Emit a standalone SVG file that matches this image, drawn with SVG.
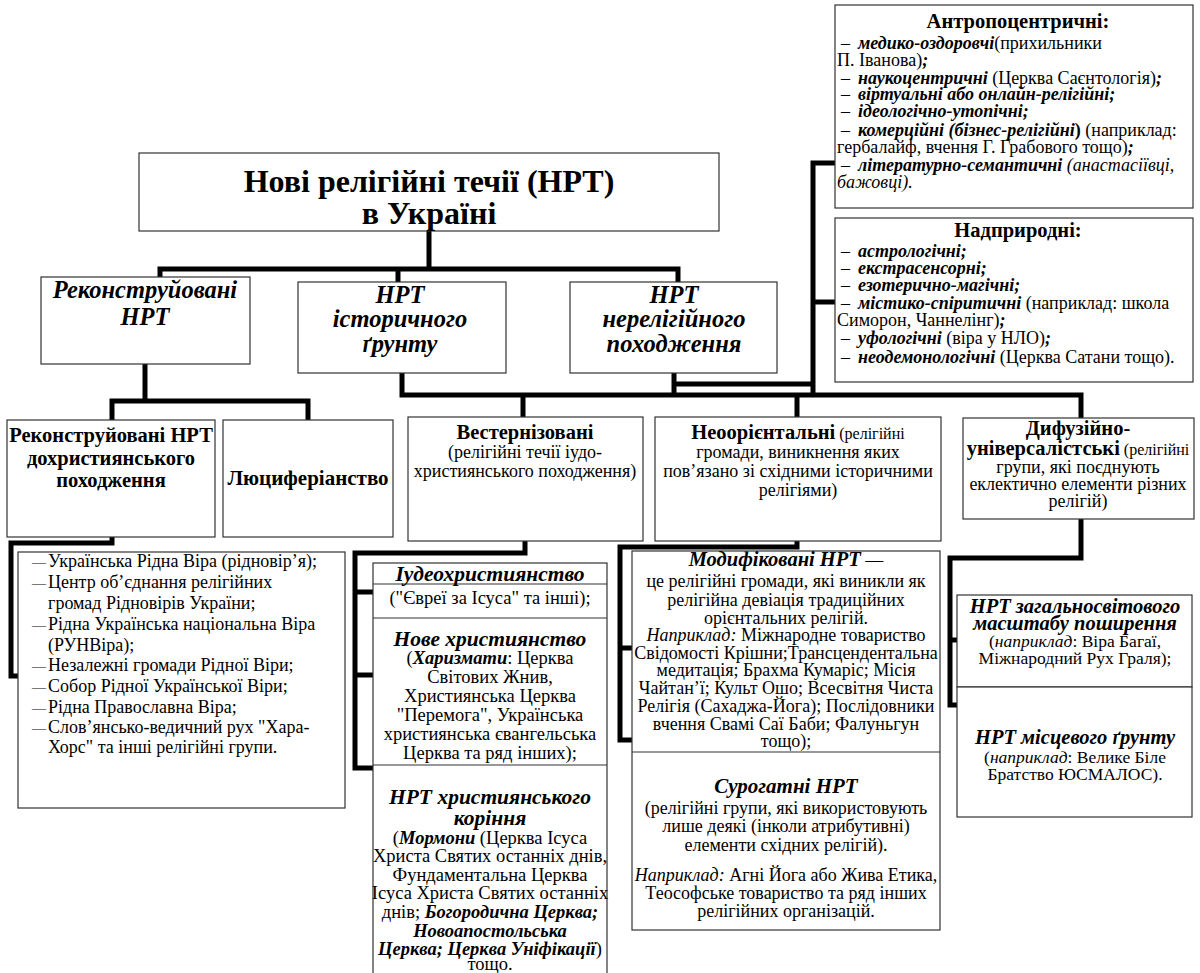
<svg xmlns="http://www.w3.org/2000/svg" width="1200" height="973" viewBox="0 0 1200 973" font-family="Liberation Serif, DejaVu Serif, serif">
<style>
.b{fill:#fff;stroke:#333;stroke-width:1.2}
.d{fill:none;stroke:#333;stroke-width:1.2}
.c{fill:none;stroke:#000;stroke-width:5;stroke-linejoin:miter;stroke-linecap:butt}
text{font-family:'Liberation Serif','DejaVu Serif',serif;font-size:18px;fill:#000}
.m{text-anchor:middle}
.bi{font-weight:bold;font-style:italic}
.bd{font-weight:bold}
.it{font-style:italic}
.h{font-size:20.5px}
.k{font-size:24.5px}
.g{font-size:20.5px}
.q{font-size:21.5px}
.s{font-size:16px}
.cb{font-size:18.5px}
.sm{font-size:17.5px}
.dash{font-size:14px}
</style>
<rect width="1200" height="973" fill="#fff"/>
<g id="connectors">
<path class="c" d="M429,231 V269"/>
<path class="c" d="M160,277 V269 H678 V282"/>
<path class="c" d="M398,269 V282"/>
<path class="c" d="M145,364 V401"/>
<path class="c" d="M112,420 V401 H308 V420"/>
<path class="c" d="M112,537 V543 H11 V676 H18"/>
<path class="c" d="M402,373 V395 H1081 V418"/>
<path class="c" d="M523,395 V417"/>
<path class="c" d="M797,395 V417"/>
<path class="c" d="M674,373 V395"/>
<path class="c" d="M674,384 H813"/>
<path class="c" d="M835,163 H813 V397"/>
<path class="c" d="M813,302 H835"/>
<path class="c" d="M525,541 V553 H355 V768 H373"/>
<path class="c" d="M355,592 H373"/>
<path class="c" d="M355,675 H373"/>
<path class="c" d="M797,541 V547 H620 V740 H632"/>
<path class="c" d="M620,648 H632"/>
<path class="c" d="M1081,519 V558 H950 V705 H957"/>
<path class="c" d="M950,640 H957"/>
</g>
<g id="title">
<rect class="b" x="139" y="153" width="580" height="78"/>
<text class="m bd" style="font-size:32px"><tspan x="429" y="192">Нові релігійні течії (НРТ)</tspan><tspan x="429" y="224">в Україні</tspan></text>
</g>
<g id="reconstructed">
<rect class="b" x="41" y="277" width="209" height="87"/>
<text class="m bi k"><tspan x="145" y="298">Реконструйовані</tspan><tspan x="145" y="325">НРТ</tspan></text>
</g>
<g id="historical">
<rect class="b" x="298" y="282" width="208" height="91"/>
<text class="m bi k"><tspan x="400" y="303">НРТ</tspan><tspan x="400" y="327">історичного</tspan><tspan x="400" y="352">ґрунту</tspan></text>
</g>
<g id="nonreligious">
<rect class="b" x="570" y="282" width="207" height="91"/>
<text class="m bi k"><tspan x="674" y="303">НРТ</tspan><tspan x="674" y="327">нерелігійного</tspan><tspan x="674" y="352">походження</tspan></text>
</g>
<g id="anthropocentric">
<rect class="b" x="835" y="5" width="358" height="203"/>
<text><tspan class="m bd g" x="1018" y="28">Антропоцентричні:</tspan><tspan x="841" y="49">–</tspan><tspan x="858" class="bi">медико-оздоровчі</tspan><tspan>(прихильники</tspan><tspan x="837" y="66">П. Іванова)</tspan><tspan class="bi">;</tspan><tspan x="841" y="84">–</tspan><tspan x="858" class="bi">наукоцентричні</tspan><tspan> (Церква Саєнтологія)</tspan><tspan class="bi">;</tspan><tspan x="841" y="100">–</tspan><tspan x="858" class="bi">віртуальні або онлайн-релігійні;</tspan><tspan x="841" y="117">–</tspan><tspan x="858" class="bi">ідеологічно-утопічні;</tspan><tspan x="841" y="136">–</tspan><tspan x="858" class="bi">комерційні (бізнес-релігійні</tspan><tspan class="bd">)</tspan><tspan> (наприклад:</tspan><tspan x="837" y="153">гербалайф, вчення Г. Грабового тощо)</tspan><tspan class="bi">;</tspan><tspan x="841" y="171">–</tspan><tspan x="858" class="bi">літературно-семантичні</tspan><tspan class="it"> (анастасіївці,</tspan><tspan x="837" y="188" class="it">бажовці).</tspan></text>
</g>
<g id="supernatural">
<rect class="b" x="835" y="218" width="358" height="164"/>
<text><tspan class="m bd g" x="1018" y="237">Надприродні:</tspan><tspan x="841" y="257">–</tspan><tspan x="858" class="bi">астрологічні;</tspan><tspan x="841" y="274">–</tspan><tspan x="858" class="bi">екстрасенсорні;</tspan><tspan x="841" y="291">–</tspan><tspan x="858" class="bi">езотерично-магічні;</tspan><tspan x="841" y="309">–</tspan><tspan x="858" class="bi">містико-спіритичні</tspan><tspan> (наприклад: школа</tspan><tspan x="837" y="326">Симорон, Чаннелінг)</tspan><tspan class="bi">;</tspan><tspan x="841" y="344">–</tspan><tspan x="858" class="bi">уфологічні</tspan><tspan> (віра у НЛО)</tspan><tspan class="bi">;</tspan><tspan x="841" y="363">–</tspan><tspan x="858" class="bi">неодемонологічні</tspan><tspan> (Церква Сатани тощо).</tspan></text>
</g>
<g id="prechristian">
<rect class="b" x="7" y="420" width="208" height="117"/>
<text class="m bd h"><tspan x="111" y="442">Реконструйовані НРТ</tspan><tspan x="111" y="465">дохристиянського</tspan><tspan x="111" y="487">походження</tspan></text>
</g>
<g id="luciferianism">
<rect class="b" x="223" y="420" width="170" height="117"/>
<text class="m bd" x="308" y="485" style="font-size:21px">Люциферіанство</text>
</g>
<g id="native-list">
<rect class="b" x="18" y="552" width="327" height="256"/>
<text><tspan class="dash" x="32" y="567">—</tspan><tspan x="48" y="567">Українська Рідна Віра (рідновір’я);</tspan><tspan class="dash" x="32" y="588">—</tspan><tspan x="48" y="588">Центр об’єднання релігійних</tspan><tspan x="48" y="609">громад Рідновірів України;</tspan><tspan class="dash" x="32" y="630">—</tspan><tspan x="48" y="630">Рідна Українська національна Віра</tspan><tspan x="48" y="651">(РУНВіра);</tspan><tspan class="dash" x="32" y="671">—</tspan><tspan x="48" y="671">Незалежні громади Рідної Віри;</tspan><tspan class="dash" x="32" y="692">—</tspan><tspan x="48" y="692">Собор Рідної Української Віри;</tspan><tspan class="dash" x="32" y="713">—</tspan><tspan x="48" y="713">Рідна Православна Віра;</tspan><tspan class="dash" x="32" y="733">—</tspan><tspan x="48" y="733">Слов’янсько-ведичний рух "Хара-</tspan><tspan x="48" y="753">Хорс" та інші релігійні групи.</tspan></text>
</g>
<g id="westernized">
<rect class="b" x="408" y="417" width="235" height="124"/>
<text class="m"><tspan class="bd g" x="525" y="439">Вестернізовані</tspan><tspan x="525" y="458">(релігійні течії іудо-</tspan><tspan x="525" y="477">християнського походження)</tspan></text>
</g>
<g id="neooriental">
<rect class="b" x="655" y="417" width="286" height="124"/>
<text class="m"><tspan x="798" y="439"><tspan class="bd g">Неоорієнтальні</tspan><tspan class="s"> (релігійні</tspan></tspan><tspan x="798" y="458">громади, виникнення яких</tspan><tspan x="798" y="477">пов’язано зі східними історичними</tspan><tspan x="798" y="496">релігіями)</tspan></text>
</g>
<g id="diffusive">
<rect class="b" x="963" y="418" width="231" height="101"/>
<text class="m"><tspan class="bd g" x="1078" y="435">Дифузійно-</tspan><tspan x="1078" y="455"><tspan class="bd g">універсалістські</tspan><tspan class="s"> (релігійні</tspan></tspan><tspan x="1078" y="473">групи, які поєднують</tspan><tspan x="1078" y="490">еклектично елементи різних</tspan><tspan x="1078" y="507">релігій)</tspan></text>
</g>
<g id="christian-column">
<rect class="b" x="373" y="563" width="234" height="420"/>
<line class="d" x1="373" y1="584" x2="607" y2="584"/>
<line class="d" x1="373" y1="618" x2="607" y2="618"/>
<line class="d" x1="373" y1="765" x2="607" y2="765"/>
<text class="m bi q" x="490" y="581">Іудеохристиянство</text>
<text class="m cb" x="490" y="604">("Євреї за Ісуса" та інші);</text>
<text class="m cb"><tspan class="bi q" x="490" y="646">Нове християнство</tspan><tspan x="490" y="664">(<tspan class="bi">Харизмати</tspan>: Церква</tspan><tspan x="490" y="683">Світових Жнив,</tspan><tspan x="490" y="702">Християнська Церква</tspan><tspan x="490" y="721">"Перемога", Українська</tspan><tspan x="490" y="740">християнська євангельська</tspan><tspan x="490" y="759">Церква та ряд інших);</tspan></text>
<text class="m cb"><tspan class="bi q" x="490" y="804">НРТ християнського</tspan><tspan class="bi q" x="490" y="825">коріння</tspan><tspan x="490" y="844">(<tspan class="bi">Мормони</tspan> (Церква Ісуса</tspan><tspan x="490" y="862">Христа Святих останніх днів,</tspan><tspan x="490" y="881">Фундаментальна Церква</tspan><tspan x="490" y="899">Ісуса Христа Святих останніх</tspan><tspan x="490" y="918">днів; <tspan class="bi">Богородична Церква;</tspan></tspan><tspan class="bi" x="490" y="937">Новоапостольська</tspan><tspan x="490" y="955"><tspan class="bi">Церква; Церква Уніфікації</tspan>)</tspan><tspan x="490" y="970">тощо.</tspan></text>
</g>
<g id="oriental-column">
<rect class="b" x="632" y="551" width="308" height="379"/>
<line class="d" x1="632" y1="752" x2="940" y2="752"/>
<text class="m"><tspan x="786" y="566"><tspan class="bi g">Модифіковані НРТ</tspan> —</tspan><tspan x="786" y="587">це релігійні громади, які виникли як</tspan><tspan x="786" y="606">релігійна девіація традиційних</tspan><tspan x="786" y="624">орієнтальних релігій.</tspan><tspan x="786" y="641"><tspan class="it">Наприклад:</tspan> Міжнародне товариство</tspan><tspan x="786" y="659">Свідомості Крішни;Трансцендентальна</tspan><tspan x="786" y="676">медитація; Брахма Кумаріс; Місія</tspan><tspan x="786" y="694">Чайтан’ї; Культ Ошо; Всесвітня Чиста</tspan><tspan x="786" y="712">Релігія (Сахаджа-Йога); Послідовники</tspan><tspan x="786" y="730">вчення Свамі Саї Баби; Фалуньгун</tspan><tspan x="786" y="747">тощо);</tspan></text>
<text class="m"><tspan class="bi" x="786" y="793" style="font-size:21px">Сурогатні НРТ</tspan><tspan x="786" y="814">(релігійні групи, які використовують</tspan><tspan x="786" y="832">лише деякі (інколи атрибутивні)</tspan><tspan x="786" y="851">елементи східних релігій).</tspan><tspan x="786" y="881"><tspan class="it">Наприклад:</tspan> Агні Йога або Жива Етика,</tspan><tspan x="786" y="899">Теософське товариство та ряд інших</tspan><tspan x="786" y="917">релігійних організацій.</tspan></text>
</g>
<g id="worldwide">
<rect class="b" x="957" y="595" width="235" height="92"/>
<text class="m sm"><tspan class="bi g" x="1075" y="613">НРТ загальносвітового</tspan><tspan class="bi g" x="1075" y="630">масштабу поширення</tspan><tspan x="1075" y="647">(<tspan class="it">наприклад</tspan>: Віра Багаї,</tspan><tspan x="1075" y="664">Міжнародний Рух Граля);</tspan></text>
</g>
<g id="local">
<rect class="b" x="957" y="687" width="235" height="130"/>
<text class="m sm"><tspan class="bi g" x="1075" y="744">НРТ місцевого ґрунту</tspan><tspan x="1075" y="763">(<tspan class="it">наприклад</tspan>: Велике Біле</tspan><tspan x="1075" y="780">Братство ЮСМАЛОС).</tspan></text>
</g>
</svg>
